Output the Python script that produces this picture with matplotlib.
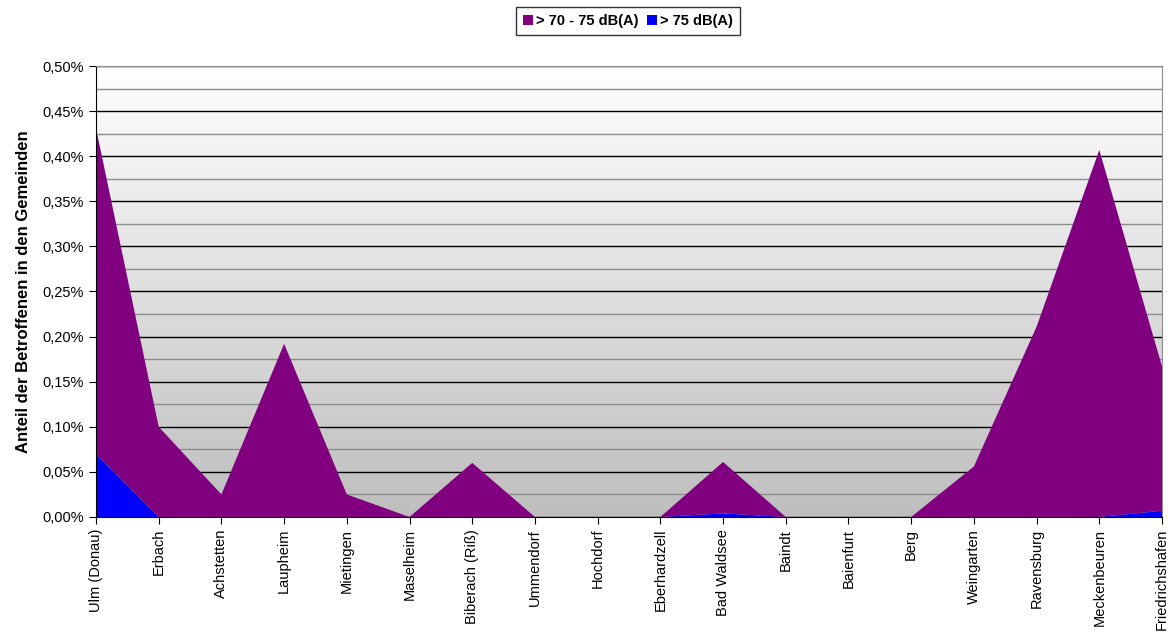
import numpy as np
import matplotlib.pyplot as plt
from matplotlib.colors import LinearSegmentedColormap
from matplotlib.ticker import MultipleLocator, FuncFormatter

plt.rcParams["font.family"] = ["Liberation Sans", "DejaVu Sans"]

gemeinden = [
    "Ulm (Donau)", "Erbach", "Achstetten", "Laupheim", "Mietingen", "Maselheim",
    "Biberach (Riß)", "Ummendorf", "Hochdorf", "Eberhardzell", "Bad Waldsee",
    "Baindt", "Baienfurt", "Berg", "Weingarten", "Ravensburg", "Meckenbeuren",
    "Friedrichshafen",
]
# Anteile in Prozent
ueber_75 = [0.070, 0.0, 0.0, 0.0, 0.0, 0.0, 0.0, 0.0, 0.0, 0.0, 0.004,
            0.0, 0.0, 0.0, 0.0, 0.0, 0.0, 0.007]
gesamt = [0.431, 0.100, 0.025, 0.192, 0.025, 0.0, 0.060, 0.0, 0.0, 0.0, 0.061,
          0.0, 0.0, 0.0, 0.056, 0.211, 0.407, 0.167]
von_70_75 = [g - u for g, u in zip(gesamt, ueber_75)]

fig = plt.figure(figsize=(11.68, 6.34), dpi=100)
ax = fig.add_axes([96 / 1168, 1 - 517 / 634, (1162 - 96) / 1168, (517 - 66) / 634])

x = np.arange(len(gemeinden))
n = len(gemeinden) - 1

# Hintergrund mit Verlauf von weiß (oben) nach grau (unten)
grad = np.linspace(0, 1, 256).reshape(-1, 1)
ax.imshow(grad, cmap=LinearSegmentedColormap.from_list("bg", ["#ffffff", "#bebebe"]),
          aspect="auto", extent=(0, n, 0, 0.5), origin="upper", zorder=0)
ax.set_xlim(0, n)
ax.set_ylim(0, 0.5)

ax.yaxis.set_major_locator(MultipleLocator(0.05))
ax.yaxis.set_minor_locator(MultipleLocator(0.025))
ax.grid(which="major", axis="y", color="black", linewidth=1, zorder=1)
ax.grid(which="minor", axis="y", color="#8c8c8c", linewidth=1, zorder=1)
ax.set_axisbelow(True)

ax.stackplot(x, ueber_75, von_70_75, colors=["#0000ff", "#800080"],
             labels=["> 75 dB(A)", "> 70 - 75 dB(A)"], zorder=2)

ax.set_xticks(x)
ax.set_xticklabels(gemeinden, rotation=90, fontsize=10.5)
ax.yaxis.set_major_formatter(FuncFormatter(lambda v, _: f"{v:.2f}%".replace(".", ",")))
ax.tick_params(axis="y", which="major", length=5, labelsize=10.5, direction="out")
ax.tick_params(axis="y", which="minor", length=0)
ax.tick_params(axis="x", length=5, direction="out")

for side in ("top", "right"):
    ax.spines[side].set_color("#8c8c8c")
for side in ("left", "bottom"):
    ax.spines[side].set_color("black")

ax.set_ylabel("Anteil der Betroffenen in den Gemeinden", fontsize=12,
              fontweight="bold", labelpad=8)

handles, labels = ax.get_legend_handles_labels()
leg = fig.legend(handles[::-1], labels[::-1], loc="center", ncol=2,
                 bbox_to_anchor=(628 / 1168, 1 - 21 / 634), frameon=True,
                 fancybox=False, edgecolor="black", handlelength=0.7,
                 handleheight=0.7, handletextpad=0.2, columnspacing=0.6,
                 borderpad=0.45, prop={"size": 10.5, "weight": "bold"})
leg.get_frame().set_linewidth(1)

fig.savefig("out.png", dpi=100)
